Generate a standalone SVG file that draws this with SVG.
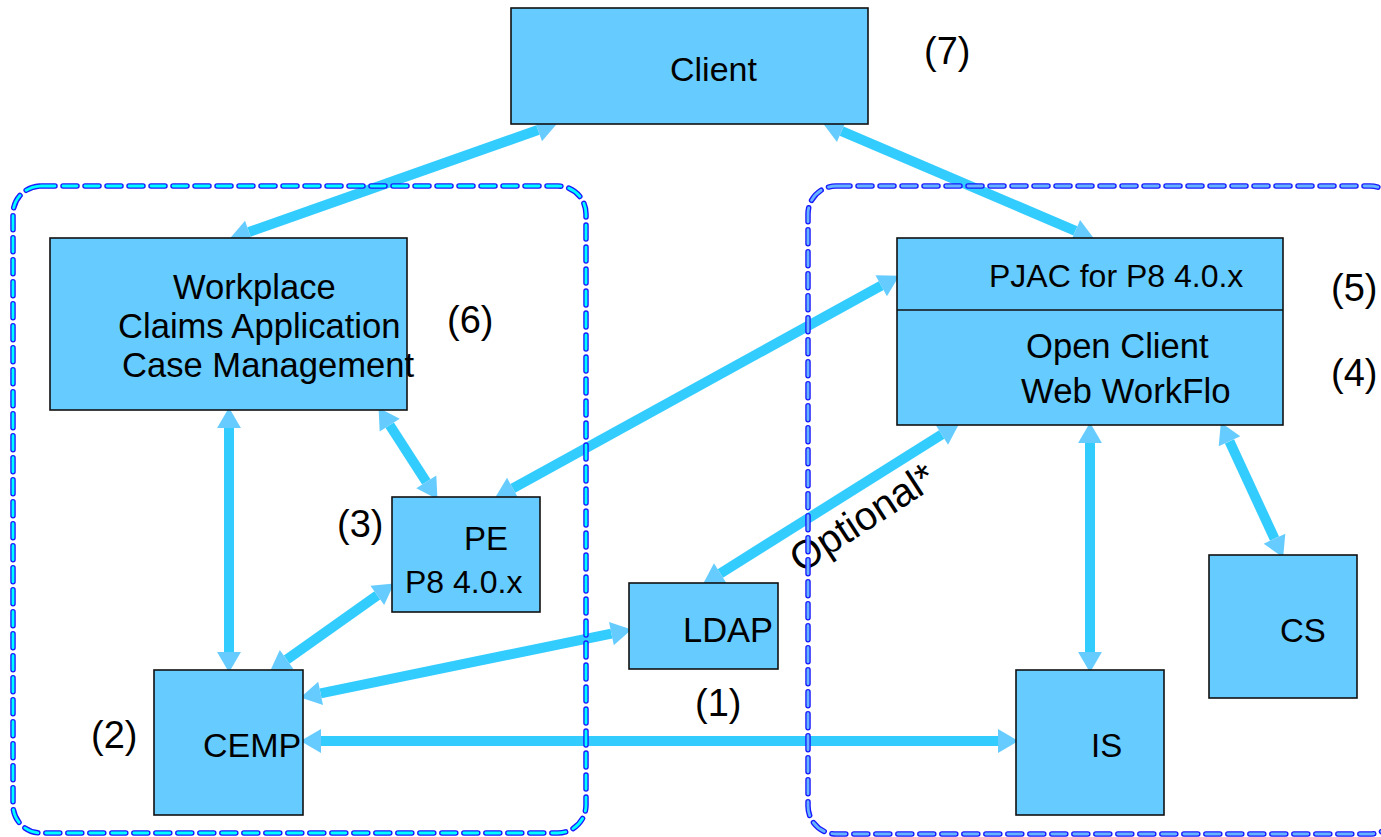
<svg xmlns="http://www.w3.org/2000/svg" width="1381" height="837" viewBox="0 0 1381 837">
<style>
.box{fill:#66ccff;stroke:#111;stroke-width:1.6}
.t{font-family:"Liberation Sans",Arial,sans-serif;font-size:34px;fill:#000}
.n{font-family:"Liberation Sans",Arial,sans-serif;font-size:38px;fill:#000}
.c{fill:none;stroke:#33ccff;stroke-width:10;marker-start:url(#ah);marker-end:url(#ah)}
.dOut{fill:none;stroke:#1a1aff;stroke-width:5.5;stroke-dasharray:14 8;stroke-linecap:round}
.dInL{fill:none;stroke:#00ffff;stroke-width:2.8;stroke-dasharray:14 8;stroke-linecap:round}
.dInR{fill:none;stroke:#66b3ff;stroke-width:2.8;stroke-dasharray:14 8;stroke-linecap:round}
</style>
<defs>
<marker id="ah" markerUnits="userSpaceOnUse" markerWidth="24" markerHeight="26" viewBox="0 -12 20 24" refX="0" refY="0" orient="auto-start-reverse">
<path d="M0,-11 L19,0 L0,11 z" fill="#66ccff"/>
</marker>
</defs>
<rect width="1381" height="837" fill="#fff"/>

<g id="connectors">
<path class="c" d="M538,130 L249,232"/>
<path class="c" d="M841.6,131.1 L1075.4,230.9"/>
<path class="c" d="M229,428 L229,652"/>
<path class="c" d="M389.7,425.1 L426.3,481.9"/>
<path class="c" d="M881.2,285.7 L512.8,488.3"/>
<path class="c" d="M377.3,595.4 L286.7,659.6"/>
<path class="c" d="M611.4,633.6 L320.6,693.4"/>
<path class="c" d="M321,741 L998,741"/>
<path class="c" d="M941.7,434.6 L720.3,573.4"/>
<path class="c" d="M1090,443 L1090,652"/>
<path class="c" d="M1229.5,441.3 L1274.5,538.7"/>
<text class="t" style="font-size:40px" transform="translate(801,574) rotate(-33)">Optional*</text>
</g>

<g id="groupLeft">
<rect class="dOut" x="13" y="186" width="573" height="647" rx="28"/>
<rect class="dInL" x="13" y="186" width="573" height="647" rx="28"/>
</g>
<g id="groupRight">
<rect class="dOut" x="808" y="186" width="590" height="648" rx="28"/>
<rect class="dInR" x="808" y="186" width="590" height="648" rx="28"/>
</g>

<g id="client">
<rect class="box" x="511" y="8" width="357" height="116"/>
<text class="t" x="670" y="81">Client</text>
<text class="n" x="924" y="64">(7)</text>
</g>

<g id="workplace">
<rect class="box" x="50" y="238" width="357" height="172"/>
<text class="t" style="font-size:34.6px" x="173" y="299">Workplace</text>
<text class="t" style="font-size:34.6px" x="118" y="338">Claims Application</text>
<text class="t" style="font-size:34.6px" x="122" y="377">Case Management</text>
<text class="n" x="447" y="333">(6)</text>
</g>

<g id="pe">
<rect class="box" x="392" y="497" width="148" height="115"/>
<text class="t" style="font-size:33px" x="464" y="550">PE</text>
<text class="t" style="font-size:32px" x="405" y="593">P8 4.0.x</text>
<text class="n" x="337" y="537">(3)</text>
</g>

<g id="cemp">
<rect class="box" x="154" y="670" width="149" height="145"/>
<text class="t" x="203" y="757">CEMP</text>
<text class="n" x="91" y="748">(2)</text>
</g>

<g id="ldap">
<rect class="box" x="629" y="583" width="149" height="86"/>
<text class="t" style="font-size:34.5px" x="683" y="642">LDAP</text>
<text class="n" x="695" y="716">(1)</text>
</g>

<g id="pjac">
<rect class="box" x="897" y="238" width="386" height="187"/>
<line x1="897" y1="310" x2="1283" y2="310" stroke="#111" stroke-width="1.6"/>
<text class="t" style="font-size:32px" x="989" y="287">PJAC for P8 4.0.x</text>
<text class="t" style="font-size:34.6px" x="1026" y="358">Open Client</text>
<text class="t" style="font-size:34.8px" x="1021" y="403">Web WorkFlo</text>
<text class="n" x="1331" y="301">(5)</text>
<text class="n" x="1331" y="386">(4)</text>
</g>

<g id="cs">
<rect class="box" x="1209" y="555" width="148" height="143"/>
<text class="t" style="font-size:33px" x="1280" y="642">CS</text>
</g>

<g id="is">
<rect class="box" x="1016" y="670" width="148" height="145"/>
<text class="t" style="font-size:33px" x="1091" y="757">IS</text>
</g>
</svg>
